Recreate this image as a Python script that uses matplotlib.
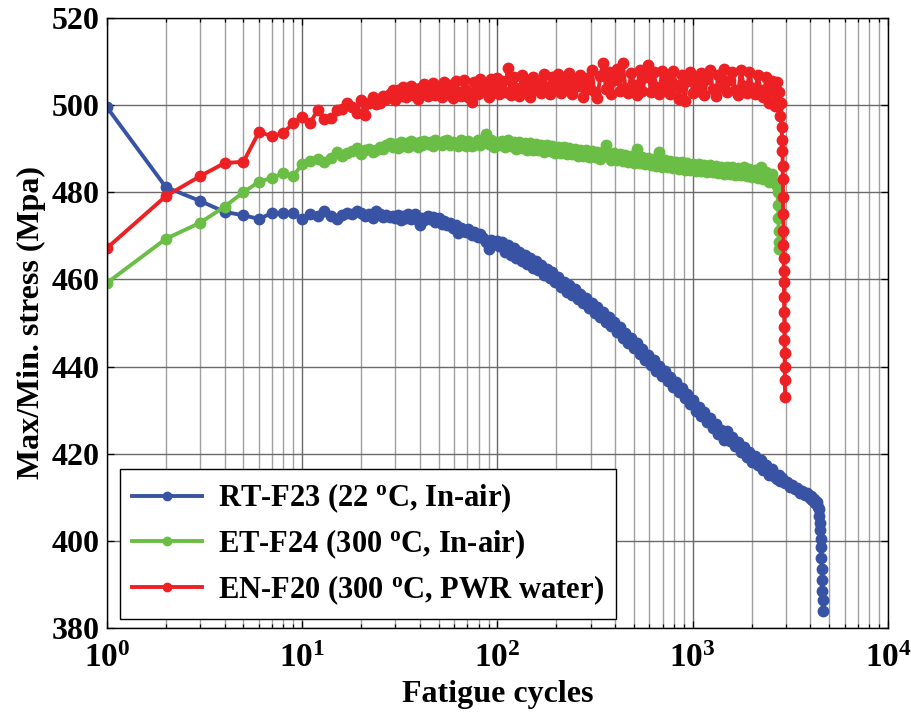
import numpy as np
import matplotlib
matplotlib.use("Agg")
import matplotlib.pyplot as plt
from matplotlib.ticker import LogLocator, NullFormatter

# every cycle up to 29, then a log-thinned cycle grid shared by the three curves
cycles_early = list(range(1, 30))
cycles_fine = [30, 31, 32, 33, 34, 35, 36, 37, 38, 39,
               40, 41, 42, 44, 45, 47, 48, 50, 52, 53,
               55, 57, 59, 61, 63, 65, 67, 69, 71, 74,
               76, 79, 81, 84, 87, 90, 93, 96, 99, 102,
               106, 109, 113, 117, 121, 125, 129, 133, 138, 142,
               147, 152, 157, 162, 168, 173, 179, 185, 191, 198,
               204, 211, 218, 226, 233, 241, 249, 258, 266, 275,
               285, 294, 304, 314, 325, 336, 347, 359, 371, 383,
               396, 410, 423, 438, 452, 468, 483, 500, 517, 534,
               552, 571, 590, 610, 630, 652, 674, 696, 720, 744,
               769, 795, 822, 850, 879, 908, 939, 971, 1003, 1037,
               1072, 1108, 1146, 1185, 1224, 1266, 1308, 1352, 1398, 1445,
               1494, 1545, 1597, 1651, 1706, 1764, 1823, 1885, 1948, 2014,
               2082, 2152, 2225, 2300, 2377, 2458, 2540, 2626]

# RT-F23 (22 C, in-air)
rt_early = [499.5, 481.2, 478.0, 475.5, 474.7, 473.9, 475.2, 475.2, 475.2, 473.9,
            475.0, 474.5, 475.7, 474.6, 473.9, 474.8, 475.2, 475.0, 475.7, 475.3,
            474.6, 475.0, 474.2, 475.7, 475.0, 474.4, 474.8, 474.3, 474.6]
rt_fine = [474.0, 474.8, 473.6, 474.6, 474.1, 475.0, 473.8, 474.5, 474.9, 473.7,
           472.5, 474.2, 473.6, 474.6, 473.8, 474.3, 473.1, 474.0, 472.8, 473.5,
           472.5, 473.0, 471.8, 472.4, 470.6, 471.9, 471.2, 470.8, 471.6, 470.3,
           470.9, 469.7, 470.4, 469.4, 468.6, 467.0, 469.0, 468.2, 468.8, 467.6,
           468.7, 466.4, 467.9, 465.7, 467.3, 465.0, 466.4, 464.2, 465.7, 463.5,
           465.0, 462.7, 464.2, 462.1, 463.4, 461.1, 462.5, 460.4, 461.6, 459.5,
           460.6, 458.3, 459.5, 457.2, 458.7, 456.4, 457.7, 455.4, 456.7, 454.6,
           455.8, 453.5, 454.7, 452.4, 453.6, 451.3, 452.5, 450.2, 451.4, 449.2,
           450.3, 447.9, 449.0, 446.6, 447.7, 445.4, 446.5, 444.2, 445.3, 442.9,
           444.0, 441.6, 442.7, 440.4, 441.4, 439.0, 440.2, 437.9, 438.9, 436.6,
           437.7, 435.4, 436.5, 434.1, 435.0, 432.7, 433.7, 431.4, 432.3, 429.9,
           430.8, 428.6, 429.5, 427.2, 428.1, 425.8, 426.8, 424.5, 425.5, 423.2,
           425.1, 422.9, 423.9, 421.7, 422.7, 420.4, 421.5, 419.2, 420.4, 418.2,
           419.5, 417.3, 418.5, 416.3, 417.4, 415.2, 416.5, 414.6]
rt_tail_cycles = [2700, 2760, 2801, 2880, 2969, 3050, 3146, 3240, 3334, 3430, 3533,
                  3640, 3744, 3850, 3968, 4040, 4100, 4180, 4250, 4310, 4360, 4410,
                  4450, 4480, 4500, 4520, 4540, 4560, 4575, 4590, 4605, 4620, 4640]
rt_tail = [414.3, 415.0, 413.7, 414.4, 413.2, 413.6, 412.4, 412.9, 411.8, 412.1, 411.0,
           411.5, 410.5, 410.9, 409.9, 410.4, 409.4, 409.6, 408.6, 408.9, 407.8, 407.2,
           405.8, 404.0, 402.5, 400.5, 398.5, 396.0, 393.5, 391.0, 388.5, 386.5, 384.0]

# ET-F24 (300 C, in-air)
et_early = [459.2, 469.3, 473.0, 476.7, 480.0, 482.4, 483.3, 484.4, 483.7, 486.5,
            487.2, 487.6, 487.0, 487.9, 489.2, 488.4, 489.0, 489.4, 490.2, 488.8,
            489.6, 490.0, 489.3, 489.7, 490.4, 490.0, 490.8, 491.3, 490.5]
et_fine = [491.0, 490.2, 491.5, 490.6, 491.3, 490.4, 491.7, 490.8, 491.2, 490.3,
           491.6, 490.9, 491.8, 491.0, 491.5, 490.6, 492.0, 491.2, 490.8, 491.7,
           491.9, 490.9, 491.6, 491.1, 490.6, 492.0, 491.3, 490.7, 491.8, 490.7,
           491.4, 492.1, 490.8, 491.6, 493.4, 491.0, 491.9, 490.5, 491.6, 490.9,
           491.8, 490.3, 492.1, 490.6, 491.6, 490.0, 491.5, 490.2, 491.3, 489.8,
           491.2, 489.7, 491.1, 489.6, 490.9, 489.3, 490.8, 489.4, 490.6, 489.1,
           490.5, 489.1, 490.3, 488.8, 490.1, 488.7, 489.9, 488.4, 489.8, 488.3,
           489.6, 488.2, 489.5, 488.0, 489.3, 487.7, 489.2, 490.8, 488.8, 487.5,
           488.9, 487.3, 488.8, 487.2, 488.5, 487.0, 488.3, 486.8, 489.9, 486.7,
           488.1, 486.5, 487.9, 486.3, 487.7, 486.1, 489.2, 485.9, 487.4, 485.7,
           487.2, 485.6, 487.0, 485.4, 486.9, 485.2, 486.7, 485.1, 486.5, 484.9,
           486.4, 484.8, 486.3, 484.7, 486.2, 484.6, 486.1, 484.4, 485.9, 484.3,
           485.8, 484.2, 485.7, 484.0, 485.6, 483.9, 485.9, 483.7, 485.4, 483.5,
           485.2, 483.3, 485.8, 483.0, 484.7, 482.4, 484.1, 482.1]
et_tail_cycles = [2700, 2720, 2735, 2745, 2755, 2765, 2770]
et_tail = [481.5, 480.0, 477.0, 474.0, 471.0, 468.5, 467.0]

# EN-F20 (300 C, PWR water)
en_early = [467.2, 479.1, 483.7, 486.7, 487.0, 493.8, 492.9, 493.6, 495.9, 497.3,
            496.0, 498.9, 496.8, 497.0, 498.9, 499.2, 500.5, 499.6, 498.2, 501.2,
            497.7, 500.6, 501.9, 500.2, 500.5, 502.0, 501.4, 502.6, 503.5]
en_fine = [501.2, 503.4, 502.0, 504.1, 501.8, 503.0, 504.4, 502.3, 503.6, 501.5,
           504.0, 502.6, 504.8, 502.1, 503.9, 505.0, 502.4, 504.3, 501.9, 505.2,
           502.8, 504.7, 501.6, 505.5, 503.1, 502.2, 505.8, 503.5, 501.8, 500.7,
           505.4, 502.6, 506.0, 503.2, 504.8, 501.9, 505.9, 503.0, 506.3, 502.5,
           505.6, 503.1, 508.5, 502.4, 506.4, 504.0, 502.2, 506.8, 503.3, 505.7,
           501.9, 506.5, 503.6, 505.0, 502.7, 507.1, 504.2, 502.6, 506.4, 503.5,
           507.2, 502.8, 505.6, 503.9, 507.4, 502.5, 505.9, 504.4, 507.0, 501.9,
           506.2, 503.7, 508.0, 502.9, 501.6, 506.7, 509.7, 503.8, 507.6, 502.6,
           505.8, 508.2, 503.2, 509.6, 504.0, 502.7, 507.4, 504.6, 502.4, 508.1,
           503.3, 506.4, 509.2, 502.9, 507.5, 504.2, 502.6, 507.9, 503.8, 506.6,
           502.5, 507.8, 504.6, 501.4, 506.9, 500.9, 505.6, 507.7, 502.8, 506.0,
           503.3, 507.3, 502.4, 505.9, 508.0, 503.6, 502.2, 506.8, 504.1, 508.3,
           502.9, 505.7, 507.6, 503.5, 502.4, 508.1, 504.4, 502.7, 507.5, 504.0,
           502.6, 506.9, 503.4, 501.8, 506.4, 500.6, 505.6, 499.8]
en_tail_cycles = [2700, 2740, 2770, 2800, 2830, 2850, 2870, 2880, 2890, 2895, 2900, 2905,
                  2910, 2915, 2920, 2925, 2930, 2935, 2940, 2945, 2950, 2955, 2960, 2965, 2970]
en_tail = [505.4, 499.8, 503.0, 497.5, 500.4, 495.0, 492.0, 489.5, 486.0, 483.0, 479.0, 475.0,
           471.0, 468.0, 465.0, 462.0, 459.5, 456.0, 452.5, 449.0, 446.0, 443.0, 440.0, 437.0, 433.0]

labels = [r"RT-F23 (22 $^{\mathbf{o}}$C, In-air)",
          r"ET-F24 (300 $^{\mathbf{o}}$C, In-air)",
          r"EN-F20 (300 $^{\mathbf{o}}$C, PWR water)"]
colors = ["#3953a4", "#6abd45", "#ed2024"]

plt.rcParams["font.family"] = "Liberation Serif"
plt.rcParams["font.weight"] = "bold"
plt.rcParams["mathtext.fontset"] = "custom"
plt.rcParams["mathtext.rm"] = "Liberation Serif:bold"
plt.rcParams["mathtext.bf"] = "Liberation Serif:bold"
plt.rcParams["mathtext.it"] = "Liberation Serif:bold:italic"

fig = plt.figure(figsize=(9.12, 7.13), dpi=100)
ax = fig.add_axes([0.1173, 0.1192, 0.8564, 0.8556])

series = [
    (cycles_early + cycles_fine + rt_tail_cycles, rt_early + rt_fine + rt_tail),
    (cycles_early + cycles_fine + et_tail_cycles, et_early + et_fine + et_tail),
    (cycles_early + cycles_fine + en_tail_cycles, en_early + en_fine + en_tail),
]
for (x, y), lab, c in zip(series, labels, colors):
    ax.plot(np.array(x), np.array(y), "-o", color=c, lw=2.8, ms=7.5, label=lab)

ax.set_xscale("log")
ax.set_xlim(1, 1e4)
ax.set_ylim(380, 520)
ax.set_yticks(np.arange(380, 521, 20))
ax.xaxis.set_major_locator(LogLocator(base=10, numticks=10))
ax.xaxis.set_minor_locator(LogLocator(base=10, subs=np.arange(2, 10), numticks=50))
ax.xaxis.set_minor_formatter(NullFormatter())

ax.grid(True, which="major", color="#6a6a6a", lw=1.0)
ax.grid(True, which="minor", axis="x", color="#a0a0a0", lw=1.0)
ax.tick_params(which="both", direction="in", top=True, right=True, width=0.9)
ax.tick_params(axis="y", labelsize=23, pad=5)
ax.tick_params(axis="x", labelsize=24, pad=11)
ax.tick_params(which="major", length=5)
ax.tick_params(which="minor", length=3)
for s in ax.spines.values():
    s.set_linewidth(1.0)

ax.set_xlabel("Fatigue cycles", fontsize=23, fontweight="bold", labelpad=4)
ax.set_ylabel("Max/Min. stress (Mpa)", fontsize=23, fontweight="bold", labelpad=4)

leg = ax.legend(loc="lower left", bbox_to_anchor=(0.0166, 0.0148), borderaxespad=0,
                fancybox=False, edgecolor="black", framealpha=1, fontsize=22,
                handlelength=2.3, labelspacing=0.4, borderpad=0.4, handletextpad=0.5,
                markerscale=0.8)
leg.get_frame().set_linewidth(1.0)

fig.savefig("out.png", dpi=100)
